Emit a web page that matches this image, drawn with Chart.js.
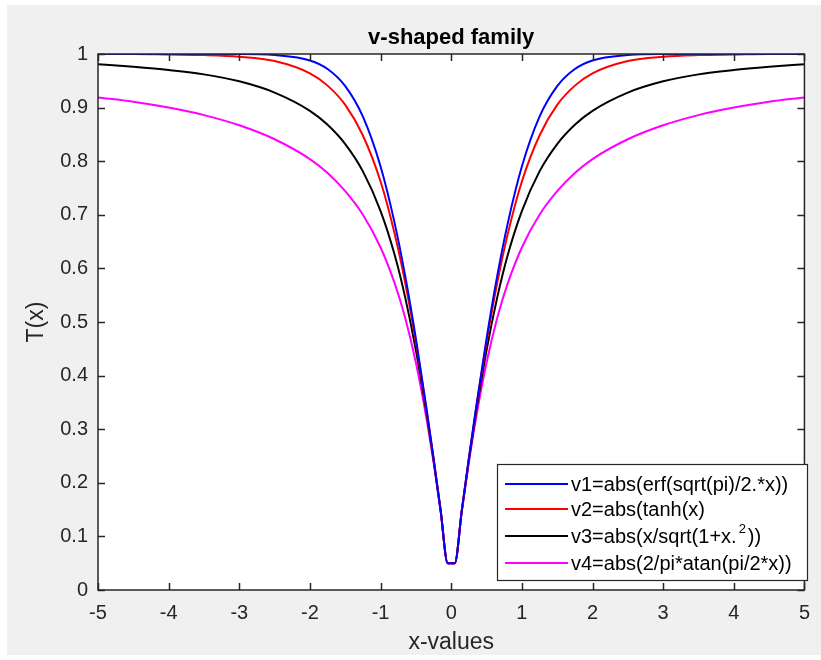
<!DOCTYPE html>
<html>
<head>
<meta charset="utf-8">
<script src="https://cdn.jsdelivr.net/npm/chart.js@4.4.1/dist/chart.umd.min.js"></script>
<style>
  html, body { margin: 0; padding: 0; background: #fff; }
  #wrap { width: 821px; height: 660px; }
</style>
</head>
<body>
<div id="wrap"><canvas id="c" width="821" height="660"></canvas></div>
<script>
'use strict';

// values (curves are symmetric around x = 0)
var xValues = [-5, -4.5, -4, -3.5, -3, -2.5, -2, -1.75, -1.5, -1.25, -1, -0.8, -0.65, -0.5, -0.35, -0.25, -0.15, -0.05,
               0.05, 0.15, 0.25, 0.35, 0.5, 0.65, 0.8, 1, 1.25, 1.5, 1.75, 2, 2.5, 3, 3.5, 4, 4.5, 5];

var v1 = [1, 1, 1, 1, 1, 0.998, 0.988, 0.972, 0.940, 0.883, 0.790, 0.684, 0.585, 0.469, 0.339, 0.246, 0.149, 0.05,
          0.05, 0.149, 0.246, 0.339, 0.469, 0.585, 0.684, 0.790, 0.883, 0.940, 0.972, 0.988, 0.998, 1, 1, 1, 1, 1];
var v2 = [1, 1, 0.999, 0.998, 0.995, 0.987, 0.964, 0.941, 0.905, 0.848, 0.762, 0.664, 0.572, 0.462, 0.336, 0.245, 0.149, 0.05,
          0.05, 0.149, 0.245, 0.336, 0.462, 0.572, 0.664, 0.762, 0.848, 0.905, 0.941, 0.964, 0.987, 0.995, 0.998, 0.999, 1, 1];
var v3 = [0.981, 0.976, 0.970, 0.962, 0.949, 0.928, 0.894, 0.868, 0.832, 0.781, 0.707, 0.625, 0.545, 0.447, 0.330, 0.243, 0.148, 0.05,
          0.05, 0.148, 0.243, 0.330, 0.447, 0.545, 0.625, 0.707, 0.781, 0.832, 0.868, 0.894, 0.928, 0.949, 0.962, 0.970, 0.976, 0.981];
var v4 = [0.919, 0.911, 0.900, 0.886, 0.867, 0.841, 0.804, 0.778, 0.744, 0.700, 0.639, 0.572, 0.507, 0.424, 0.320, 0.238, 0.147, 0.05,
          0.05, 0.147, 0.238, 0.320, 0.424, 0.507, 0.572, 0.639, 0.700, 0.744, 0.778, 0.804, 0.841, 0.867, 0.886, 0.900, 0.911, 0.919];

var seriesNames = ['v1=abs(erf(sqrt(pi)/2.*x))', 'v2=abs(tanh(x)', 'v3=abs(x/sqrt(1+x.^2))', 'v4=abs(2/pi*atan(pi/2*x))'];
var seriesColors = ['#0000ff', '#ff0000', '#000000', '#ff00ff'];
var seriesValues = [v1, v2, v3, v4];

var xTicks = [-5, -4, -3, -2, -1, 0, 1, 2, 3, 4, 5];
var yTicks = [0, 0.1, 0.2, 0.3, 0.4, 0.5, 0.6, 0.7, 0.8, 0.9, 1];

var titleText = 'v-shaped family';
var xTitle = 'x-values';
var yTitle = 'T(x)';

var FONT = '"Liberation Sans", Arial, Helvetica, sans-serif';
var AXIS_COLOR = '#262626';

function points(ys) {
    return xValues.map(function(x, i) { return {x: x, y: ys[i]}; });
}

// draw text with a raised "2" for the ".^2" piece
function drawLabel(ctx, text, x, y) {
    var parts = text.split('^');
    if (parts.length === 1) {
        ctx.fillText(text, x, y);
        return;
    }
    ctx.fillText(parts[0], x, y);
    var w = ctx.measureText(parts[0]).width;
    var sup = parts[1].charAt(0), rest = parts[1].slice(1);
    var mainFont = ctx.font;
    ctx.font = '13px ' + FONT;
    ctx.fillText(sup, x + w + 2, y - 8);
    var sw = ctx.measureText(sup).width;
    ctx.font = mainFont;
    ctx.fillText(rest, x + w + sw + 4, y);
}

var matlabFrame = {
    id: 'matlabFrame',
    beforeDraw: function(chart) {
        var ctx = chart.ctx, a = chart.chartArea;
        ctx.save();
        ctx.fillStyle = '#ffffff';
        ctx.fillRect(0, 0, chart.width, chart.height);
        ctx.fillStyle = '#f0f0f0';
        ctx.fillRect(7, 5, chart.width - 7, chart.height - 10);
        ctx.fillStyle = '#ffffff';
        ctx.fillRect(a.left, a.top, a.right - a.left, a.bottom - a.top);
        ctx.restore();
    },
    afterDatasetsDraw: function(chart) {
        var ctx = chart.ctx, a = chart.chartArea;
        var xs = chart.scales.x, ys = chart.scales.y;
        ctx.save();

        // box and inward ticks
        ctx.strokeStyle = AXIS_COLOR;
        ctx.lineWidth = 1.5;
        ctx.strokeRect(a.left, a.top, a.right - a.left, a.bottom - a.top);
        ctx.beginPath();
        xTicks.forEach(function(t) {
            var px = Math.round(xs.getPixelForValue(t)) + 0.5;
            ctx.moveTo(px, a.bottom); ctx.lineTo(px, a.bottom - 7);
            ctx.moveTo(px, a.top); ctx.lineTo(px, a.top + 7);
        });
        yTicks.forEach(function(t) {
            var py = Math.round(ys.getPixelForValue(t)) + 0.5;
            ctx.moveTo(a.left, py); ctx.lineTo(a.left + 7, py);
            ctx.moveTo(a.right, py); ctx.lineTo(a.right - 7, py);
        });
        ctx.stroke();

        // titles
        ctx.fillStyle = '#000';
        ctx.textAlign = 'center';
        ctx.textBaseline = 'middle';
        ctx.font = 'bold 22px ' + FONT;
        ctx.fillText(titleText, (a.left + a.right) / 2, 38);
        ctx.fillStyle = AXIS_COLOR;
        ctx.font = '23px ' + FONT;
        ctx.fillText(xTitle, (a.left + a.right) / 2, 643);
        ctx.save();
        ctx.translate(37, (a.top + a.bottom) / 2);
        ctx.rotate(-Math.PI / 2);
        ctx.fillText(yTitle, 0, 0);
        ctx.restore();

        // legend box in the lower right corner
        var lx = 497, ly = 464, lw = 310, lh = 116;
        ctx.fillStyle = '#fff';
        ctx.fillRect(lx, ly, lw, lh);
        ctx.strokeStyle = '#262626';
        ctx.lineWidth = 1.2;
        ctx.strokeRect(lx + 0.5, ly + 0.5, lw, lh);
        var rows = [484, 509, 536, 563];
        ctx.font = '20px ' + FONT;
        ctx.textAlign = 'left';
        chart.data.datasets.forEach(function(ds, i) {
            ctx.strokeStyle = ds.borderColor;
            ctx.lineWidth = 2;
            ctx.beginPath();
            ctx.moveTo(lx + 8, rows[i]);
            ctx.lineTo(lx + 71, rows[i]);
            ctx.stroke();
            ctx.fillStyle = '#000';
            drawLabel(ctx, ds.label, lx + 74, rows[i] + 1);
        });
        ctx.restore();
    }
};

var datasets = seriesValues.map(function(ys, i) {
    return {
        label: seriesNames[i],
        data: points(ys),
        borderColor: seriesColors[i],
        backgroundColor: seriesColors[i],
        borderWidth: 2,
        pointRadius: 0,
        showLine: true,
        cubicInterpolationMode: 'monotone'
    };
});

new Chart(document.getElementById('c'), {
    type: 'scatter',
    data: { datasets: datasets },
    options: {
        responsive: false,
        animation: false,
        layout: { padding: { top: 54, right: 12, left: 0, bottom: 0 } },
        plugins: {
            legend: { display: false },
            title: { display: false },
            tooltip: { enabled: false }
        },
        scales: {
            x: {
                type: 'linear',
                min: -5, max: 5,
                afterBuildTicks: function(scale) {
                    scale.ticks = xTicks.map(function(v) { return {value: v}; });
                },
                afterFit: function(scale) { scale.height = 70; },
                grid: { display: false, drawTicks: false },
                border: { display: false },
                ticks: { color: AXIS_COLOR, font: { family: FONT, size: 20 }, padding: 11, maxRotation: 0 }
            },
            y: {
                type: 'linear',
                min: 0, max: 1,
                afterBuildTicks: function(scale) {
                    scale.ticks = yTicks.map(function(v) { return {value: v}; });
                },
                afterFit: function(scale) { scale.width = 98; },
                grid: { display: false, drawTicks: false },
                border: { display: false },
                ticks: {
                    color: AXIS_COLOR,
                    font: { family: FONT, size: 20 },
                    padding: 10,
                    callback: function(v) { return String(+v.toFixed(1)); }
                }
            }
        }
    },
    plugins: [matlabFrame]
});
</script>
</body>
</html>
